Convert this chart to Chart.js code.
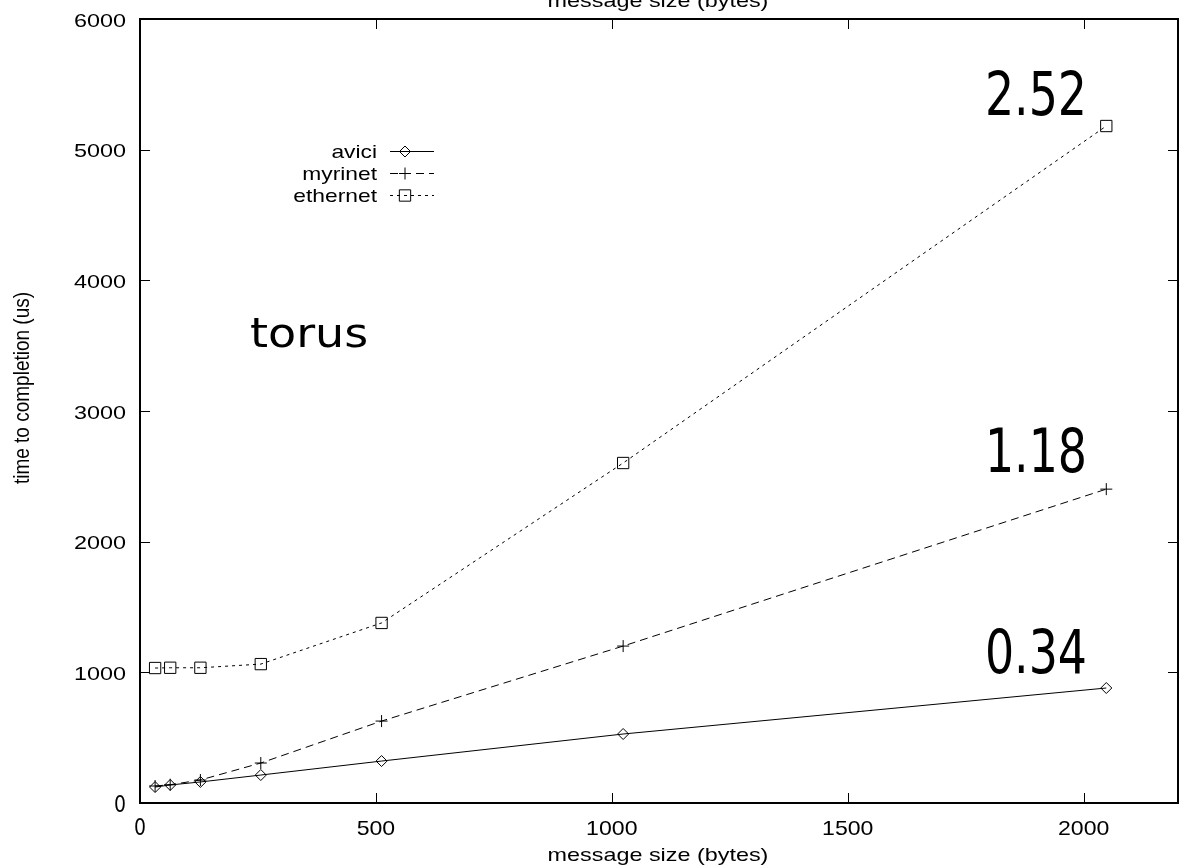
<!DOCTYPE html>
<html>
<head>
<meta charset="utf-8">
<title>torus: time to completion vs message size</title>
<script src="https://cdn.jsdelivr.net/npm/chart.js@4.4.1/dist/chart.umd.min.js"></script>
<style>
  html, body { margin: 0; padding: 0; background: #ffffff; }
  #wrap { width: 1179px; height: 867px; }
</style>
</head>
<body>
<div id="wrap"><canvas id="chart" width="1179" height="867"></canvas></div>
<script>
// message sizes (bytes) sampled on the x axis
const messageSizes = [32, 64, 128, 256, 512, 1024, 2048];
// time to completion (us) per network
const aviciTimes    = [122, 138, 161, 214, 321, 528, 880];
const myrinetTimes  = [130, 140, 176, 306, 627, 1201, 2402];
const ethernetTimes = [1033, 1035, 1035, 1063, 1378, 2602, 5181];
// series names as shown in the key
const seriesNames = ['avici', 'myrinet', 'ethernet'];
// axis tick values
const xTickValues = [0, 500, 1000, 1500, 2000];
const yTickValues = [0, 1000, 2000, 3000, 4000, 5000, 6000];
// annotations at the right end of each curve
const slopeLabels = ['2.52', '1.18', '0.34'];
const topologyLabel = 'torus';
const xAxisTitle = 'message size (bytes)';
const yAxisTitle = 'time to completion (us)';

const INK = '#000000';
const SANS = '"Liberation Sans", Arial, sans-serif';

function toPoints(xs, ys) {
  return xs.map((x, i) => ({ x: x, y: ys[i] }));
}

function stretchedText(ctx, text, x, y, font, sx, align) {
  ctx.save();
  ctx.translate(x, y);
  ctx.scale(sx, 1);
  ctx.font = font;
  ctx.textAlign = align;
  ctx.textBaseline = 'alphabetic';
  ctx.fillStyle = INK;
  ctx.fillText(text, 0, 0);
  ctx.restore();
}

const seriesStyles = [
  { dash: [],     pointStyle: 'rectRot', radius: 5.5 },
  { dash: [8, 5], pointStyle: 'cross',   radius: 6 },
  { dash: [3, 4], pointStyle: 'rect',    radius: 8 }
];
const seriesData = [aviciTimes, myrinetTimes, ethernetTimes];

const datasets = seriesNames.map((name, i) => ({
  label: name,
  data: toPoints(messageSizes, seriesData[i]),
  borderColor: INK,
  borderWidth: 1,
  borderDash: seriesStyles[i].dash,
  pointStyle: seriesStyles[i].pointStyle,
  pointRadius: seriesStyles[i].radius,
  pointHoverRadius: seriesStyles[i].radius,
  pointBorderColor: INK,
  pointBorderWidth: 1,
  pointBackgroundColor: 'rgba(0,0,0,0)',
  fill: false,
  tension: 0
}));

// white page, framed plot box with inward ticks on all four sides, labels and key
const gnuplotFrame = {
  id: 'gnuplotFrame',
  beforeDraw(chart) {
    const ctx = chart.ctx;
    ctx.save();
    ctx.fillStyle = '#ffffff';
    ctx.fillRect(0, 0, chart.width, chart.height);
    ctx.restore();
  },
  afterDraw(chart) {
    const ctx = chart.ctx;
    const area = chart.chartArea;
    const xs = chart.scales.x;
    const ys = chart.scales.y;
    const tickLen = 10;

    ctx.save();
    ctx.strokeStyle = INK;
    ctx.lineWidth = 1;
    ctx.beginPath();
    xTickValues.forEach(v => {
      const px = Math.round(xs.getPixelForValue(v)) + 0.5;
      ctx.moveTo(px, area.bottom); ctx.lineTo(px, area.bottom - tickLen);
      ctx.moveTo(px, area.top);    ctx.lineTo(px, area.top + tickLen);
    });
    yTickValues.forEach(v => {
      const py = Math.round(ys.getPixelForValue(v)) + 0.5;
      ctx.moveTo(area.left, py);  ctx.lineTo(area.left + tickLen, py);
      ctx.moveTo(area.right, py); ctx.lineTo(area.right - tickLen, py);
    });
    ctx.stroke();

    ctx.lineWidth = 2;
    ctx.strokeRect(area.left, area.top, area.right - area.left, area.bottom - area.top);
    ctx.restore();

    // tick labels
    yTickValues.forEach(v => {
      const py = ys.getPixelForValue(v);
      if (v === 0) {
        stretchedText(ctx, '0', 126, py + 8.5, '23px "DejaVu Sans"', 0.82, 'right');
      } else {
        stretchedText(ctx, String(v), 126, py + 7.5, '19px ' + SANS, 1.23, 'right');
      }
    });
    xTickValues.forEach(v => {
      const px = xs.getPixelForValue(v);
      if (v === 0) {
        stretchedText(ctx, '0', px, 835, '23px "DejaVu Sans"', 0.82, 'center');
      } else {
        stretchedText(ctx, String(v), px, 835, '21px ' + SANS, 1.1, 'center');
      }
    });

    // axis titles (a second copy of the x title sits at the very top edge)
    stretchedText(ctx, xAxisTitle, 658, 861, '19px ' + SANS, 1.23, 'center');
    stretchedText(ctx, xAxisTitle, 658, 7, '19px ' + SANS, 1.23, 'center');
    ctx.save();
    ctx.translate(29, 388);
    ctx.rotate(-Math.PI / 2);
    ctx.scale(1, 1.2);
    ctx.font = '19px ' + SANS;
    ctx.textAlign = 'center';
    ctx.textBaseline = 'alphabetic';
    ctx.fillStyle = INK;
    ctx.fillText(yAxisTitle, 0, 0);
    ctx.restore();

    // key: right-aligned names followed by a line sample with its marker
    const keyRows = [151, 173, 195];
    chart.data.datasets.forEach((ds, i) => {
      const cy = keyRows[i];
      stretchedText(ctx, ds.label, 377, cy + 6.5, '19px ' + SANS, 1.2, 'right');
      ctx.save();
      ctx.strokeStyle = INK;
      ctx.lineWidth = 1;
      ctx.setLineDash(ds.borderDash);
      ctx.beginPath();
      ctx.moveTo(390, cy + 0.5);
      ctx.lineTo(434, cy + 0.5);
      ctx.stroke();
      ctx.setLineDash([]);
      ctx.fillStyle = 'rgba(0,0,0,0)';
      Chart.helpers.drawPoint(ctx, {
        pointStyle: ds.pointStyle,
        radius: ds.pointRadius,
        borderWidth: 1,
        rotation: 0
      }, 405, cy + 0.5);
      ctx.restore();
    });

    // right-end annotations
    const slopeBaselines = [115, 472, 673];
    slopeLabels.forEach((t, i) => {
      stretchedText(ctx, t, 1087, slopeBaselines[i], '60px "DejaVu Sans Condensed", "DejaVu Sans"', 0.85, 'right');
    });
    stretchedText(ctx, topologyLabel, 250, 347, '40px "DejaVu Sans"', 1.15, 'left');
  }
};

new Chart(document.getElementById('chart'), {
  type: 'line',
  data: { datasets: datasets },
  options: {
    responsive: false,
    animation: false,
    devicePixelRatio: 1,
    layout: { autoPadding: false, padding: { left: 140, right: 1, top: 19, bottom: 64 } },
    plugins: {
      legend: { display: false },
      tooltip: { enabled: false },
      title: { display: false }
    },
    scales: {
      x: { type: 'linear', min: 0, max: 2200, display: false },
      y: { type: 'linear', min: 0, max: 6000, display: false }
    }
  },
  plugins: [gnuplotFrame]
});
</script>
</body>
</html>
